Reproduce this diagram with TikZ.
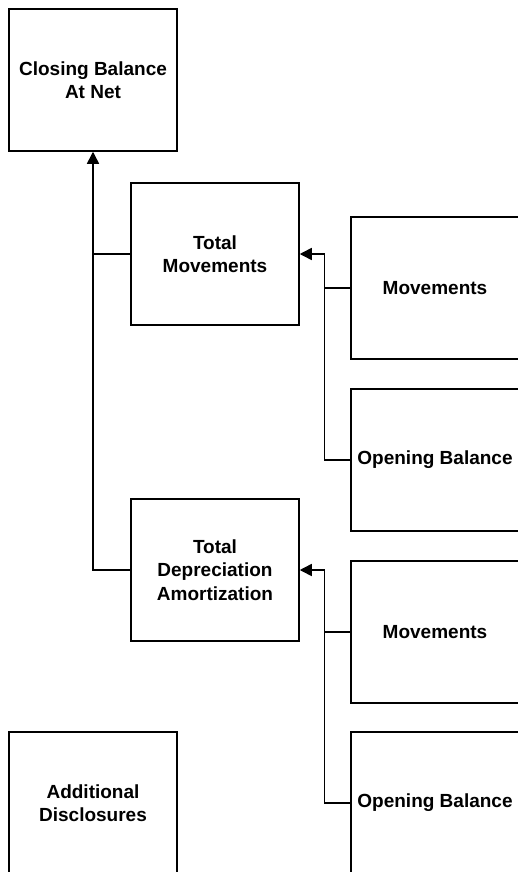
\documentclass[tikz,border=0pt]{standalone}
\usepackage{fontspec}
\setmainfont{Liberation Sans}
\usetikzlibrary{arrows.meta}
\begin{document}
\begin{tikzpicture}[x=1pt,y=1pt,
  box/.style={draw, line width=1.5pt, rectangle, minimum width=168pt, minimum height=142pt,
    align=center, inner sep=0pt, font=\bfseries\fontsize{19}{23.5}\selectfont},
  conn/.style={line width=1.5pt},
  arr/.style={conn, -{Triangle[length=12pt,width=12pt]}}]
\clip (0,0) rectangle (518,-872);
\useasboundingbox (0,0) rectangle (518,-872);
\node[box] (closing) at (93,-80) {Closing Balance\\At Net};
\node[box] (totmov) at (215,-254) {Total\\Movements};
\node[box] (mov1) at (435,-288) {Movements};
\node[box] (open1) at (435,-460) {Opening Balance};
\node[box] (totdep) at (215,-570) {Total\\Depreciation\\Amortization};
\node[box] (mov2) at (435,-632) {Movements};
\node[box] (open2) at (435,-803) {Opening Balance};
\node[box] (addl) at (93,-803) {Additional\\Disclosures};
% trunk
\draw[arr] (totdep.west) -| (closing.south);
\draw[conn] (totmov.west) -- (totmov.west -| closing.south);
% right groups
\coordinate (e1) at ([xshift=-26pt]open1.west);
\draw[arr] (open1.west) -- (e1) |- (totmov.east);
\draw[conn] (mov1.west) -- (mov1.west -| e1);
\coordinate (e2) at ([xshift=-26pt]open2.west);
\draw[arr] (open2.west) -- (e2) |- (totdep.east);
\draw[conn] (mov2.west) -- (mov2.west -| e2);
\end{tikzpicture}
\end{document}
